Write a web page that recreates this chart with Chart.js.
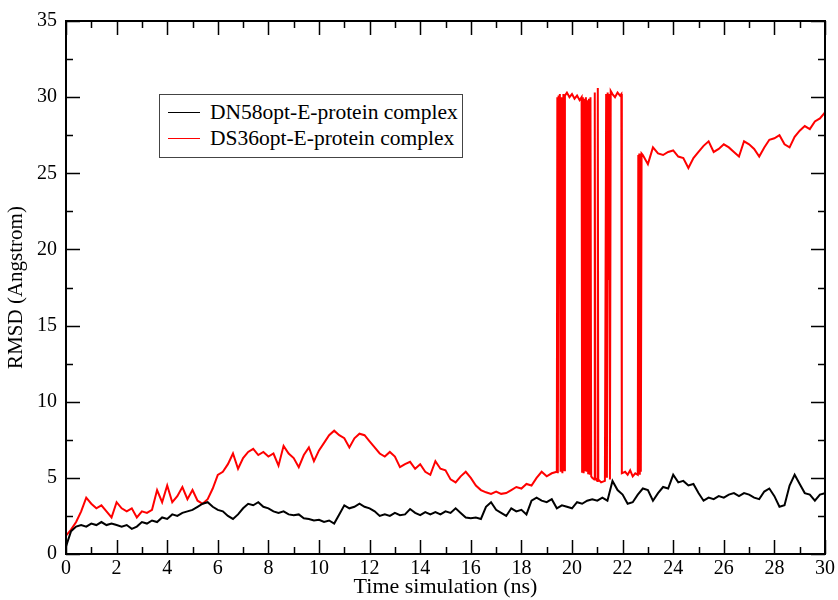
<!DOCTYPE html>
<html>
<head>
<meta charset="utf-8">
<script src="https://cdn.jsdelivr.net/npm/chart.js@4.4.0/dist/chart.umd.min.js"></script>
<style>
  body { margin: 0; background: #fff; }
  #wrap { position: relative; width: 838px; height: 600px; }
  #legend {
    position: absolute; left: 159px; top: 94px; width: 304px; height: 64px;
    border: 1px solid #444; box-sizing: border-box; background: #fff;
    font-family: "Liberation Serif", "Times New Roman", serif; font-size: 21.5px; color: #000;
    padding-top: 4px;
  }
  #legend .row { display: flex; align-items: center; height: 26px; }
  #legend .sample { width: 32px; height: 0; border-top: 1.5px solid; margin-left: 8px; margin-right: 10px; }
</style>
</head>
<body>
<div id="wrap">
  <canvas id="rmsd" width="838" height="600"></canvas>
  <div id="legend"></div>
</div>
<script>
// DN58opt-E-protein complex (black)
const blackTime = [0, 0.2, 0.4, 0.6, 0.8, 1, 1.2, 1.4, 1.6, 1.8, 2, 2.2, 2.4, 2.6, 2.8, 3, 3.2, 3.4, 3.6, 3.8,
  4, 4.2, 4.4, 4.6, 4.8, 5, 5.2, 5.4, 5.6, 5.8, 6, 6.2, 6.4, 6.6, 6.8, 7, 7.2, 7.4, 7.6, 7.8,
  8, 8.2, 8.4, 8.6, 8.8, 9, 9.2, 9.4, 9.6, 9.8, 10, 10.2, 10.4, 10.6, 10.8, 11, 11.2, 11.4, 11.6, 11.8,
  12, 12.2, 12.4, 12.6, 12.8, 13, 13.2, 13.4, 13.6, 13.8, 14, 14.2, 14.4, 14.6, 14.8, 15, 15.2, 15.4, 15.6, 15.8,
  16, 16.2, 16.4, 16.6, 16.8, 17, 17.2, 17.4, 17.6, 17.8, 18, 18.2, 18.4, 18.6, 18.8, 19, 19.2, 19.4, 19.6, 19.8,
  20, 20.2, 20.4, 20.6, 20.8, 21, 21.2, 21.4, 21.6, 21.8, 22, 22.2, 22.4, 22.6, 22.8, 23, 23.2, 23.4, 23.6, 23.8,
  24, 24.2, 24.4, 24.6, 24.8, 25, 25.2, 25.4, 25.6, 25.8, 26, 26.2, 26.4, 26.6, 26.8, 27, 27.2, 27.4, 27.6, 27.8,
  28, 28.2, 28.4, 28.6, 28.8, 29, 29.2, 29.4, 29.6, 29.8, 30];
const blackRmsd = [0.5, 1.5, 1.8, 1.9, 1.8, 2.0, 1.9, 2.1, 1.9, 2.0, 1.9, 1.8, 1.9, 1.65, 1.8, 2.1, 2.0, 2.2, 2.1, 2.4,
  2.3, 2.6, 2.5, 2.7, 2.8, 2.9, 3.1, 3.3, 3.4, 3.1, 2.9, 2.8, 2.5, 2.3, 2.6, 3.0, 3.3, 3.2, 3.4, 3.1,
  3.0, 2.8, 2.7, 2.8, 2.6, 2.55, 2.6, 2.35, 2.3, 2.2, 2.25, 2.1, 2.2, 2.0, 2.6, 3.2, 3.0, 3.1, 3.3, 3.1,
  3.0, 2.8, 2.5, 2.6, 2.5, 2.7, 2.55, 2.6, 2.95, 2.7, 2.55, 2.75, 2.6, 2.75, 2.6, 2.8, 2.7, 3.0, 2.7, 2.4,
  2.35, 2.4, 2.3, 3.1, 3.4, 2.9, 2.7, 2.5, 3.0, 2.8, 2.9, 2.6, 3.5, 3.7, 3.5, 3.4, 3.6, 3.0, 3.2, 3.1,
  3.0, 3.4, 3.3, 3.5, 3.6, 3.5, 3.7, 3.5, 4.8, 4.2, 3.9, 3.3, 3.4, 3.9, 4.3, 4.2, 3.5, 4.0, 4.4, 4.3,
  5.2, 4.7, 4.8, 4.5, 4.6, 4.0, 3.5, 3.7, 3.6, 3.8, 3.7, 3.9, 4.0, 3.8, 4.0, 3.9, 3.7, 3.6, 4.1, 4.3,
  3.8, 3.1, 3.2, 4.5, 5.2, 4.6, 4.0, 3.9, 3.5, 3.9, 4.0];

// DS36opt-E-protein complex (red)
const redTime = [0, 0.2, 0.4, 0.6, 0.8, 1, 1.2, 1.4, 1.6, 1.8, 2, 2.2, 2.4, 2.6, 2.8, 3, 3.2, 3.4, 3.6, 3.8,
  4, 4.2, 4.4, 4.6, 4.8, 5, 5.2, 5.4, 5.6, 5.8, 6, 6.2, 6.4, 6.6, 6.8, 7, 7.2, 7.4, 7.6, 7.8,
  8, 8.2, 8.4, 8.6, 8.8, 9, 9.2, 9.4, 9.6, 9.8, 10, 10.2, 10.4, 10.6, 10.8, 11, 11.2, 11.4, 11.6, 11.8,
  12, 12.2, 12.4, 12.6, 12.8, 13, 13.2, 13.4, 13.6, 13.8, 14, 14.2, 14.4, 14.6, 14.8, 15, 15.2, 15.4, 15.6, 15.8,
  16, 16.2, 16.4, 16.6, 16.8, 17, 17.2, 17.4, 17.6, 17.8, 18, 18.2, 18.4, 18.6, 18.8, 19, 19.2,
  19.4, 19.42, 19.44, 19.47, 19.5, 19.52, 19.55, 19.58, 19.62, 19.66, 19.7, 19.72, 19.8, 19.9, 20, 20.1, 20.2, 20.3, 20.38,
  20.4, 20.43, 20.46, 20.49, 20.52, 20.55, 20.58, 20.61, 20.64, 20.67, 20.7, 20.73, 20.76, 20.8, 20.88, 20.9, 20.92,
  21, 21.02, 21.04, 21.15, 21.3, 21.35, 21.38, 21.41, 21.44, 21.47, 21.5, 21.53, 21.6, 21.7, 21.8, 21.9, 21.95, 21.97,
  22.1, 22.2, 22.3, 22.4, 22.5, 22.6, 22.62, 22.64, 22.66, 22.68, 22.7, 22.72, 22.75,
  22.8, 23, 23.2, 23.4, 23.6, 23.8, 24, 24.2, 24.4, 24.6, 24.8, 25, 25.2, 25.4, 25.6, 25.8,
  26, 26.2, 26.4, 26.6, 26.8, 27, 27.2, 27.4, 27.6, 27.8, 28, 28.2, 28.4, 28.6, 28.8, 29, 29.2, 29.4, 29.6, 29.8, 30];
const redRmsd = [1.2, 1.6, 2.1, 2.8, 3.7, 3.3, 3.0, 3.2, 2.8, 2.4, 3.4, 3.0, 2.8, 3.0, 2.4, 2.8, 2.7, 2.9, 4.2, 3.4,
  4.5, 3.4, 3.8, 4.4, 3.6, 4.2, 3.5, 3.3, 3.6, 4.3, 5.2, 5.4, 5.9, 6.6, 5.6, 6.3, 6.7, 6.9, 6.5, 6.7,
  6.4, 6.6, 5.8, 7.1, 6.6, 6.3, 5.7, 6.5, 7.0, 6.1, 6.8, 7.3, 7.8, 8.1, 7.8, 7.6, 7.0, 7.6, 7.9, 7.8,
  7.4, 7.0, 6.6, 6.4, 6.7, 6.4, 5.7, 5.9, 6.05, 5.6, 5.9, 5.4, 5.2, 6.1, 5.6, 5.5, 4.9, 4.7, 5.1, 5.4,
  5.0, 4.5, 4.2, 4.05, 3.95, 4.1, 3.95, 4.0, 4.2, 4.4, 4.3, 4.6, 4.5, 5.0, 5.4, 5.1, 5.3,
  5.4, 30.0, 5.3, 30.1, 18.0, 30.2, 5.4, 30.0, 5.3, 30.2, 5.5, 30.1, 30.3, 30.0, 30.2, 29.9, 30.1, 29.8, 30.0,
  5.4, 30.0, 5.3, 29.9, 5.5, 30.0, 5.4, 29.8, 5.3, 29.9, 5.2, 30.0, 5.1, 5.0, 4.9, 30.3, 5.0,
  4.8, 30.6, 4.9, 4.7, 4.8, 30.2, 5.0, 30.3, 18.0, 30.2, 4.9, 30.4, 30.2, 30.0, 30.3, 30.1, 30.2, 5.3,
  5.4, 5.2, 5.5, 5.1, 5.3, 5.2, 26.2, 5.3, 26.3, 5.2, 26.1, 5.4, 26.3,
  26.2, 25.6, 26.7, 26.3, 26.2, 26.4, 26.5, 26.1, 26.0, 25.35, 26.0, 26.4, 26.8, 27.1, 26.4, 26.6,
  26.9, 26.7, 26.4, 26.1, 27.1, 26.9, 26.6, 26.1, 26.7, 27.2, 27.3, 27.5, 26.9, 26.7, 27.4, 27.8, 28.1, 27.9, 28.4, 28.6, 29.0];

const seriesLabels = ['DN58opt-E-protein complex', 'DS36opt-E-protein complex'];
const seriesColors = ['#000000', '#ff0000'];
const xTicks = [0, 2, 4, 6, 8, 10, 12, 14, 16, 18, 20, 22, 24, 26, 28, 30];
const yTicks = [0, 5, 10, 15, 20, 25, 30, 35];

const serif = '"Liberation Serif", "Times New Roman", serif';

// frame + inward tick marks on all four sides
const framePlugin = {
  id: 'frame',
  afterDraw(chart) {
    const { ctx, chartArea: a, scales: { x, y } } = chart;
    ctx.save();
    ctx.strokeStyle = '#000';
    ctx.lineWidth = 1.5;
    ctx.beginPath();
    for (let v = 0; v <= 30; v += 1) {
      const px = Math.round(x.getPixelForValue(v)) + 0.5;
      const len = v % 2 === 0 ? 14 : 7;
      ctx.moveTo(px, a.bottom); ctx.lineTo(px, a.bottom - len);
      ctx.moveTo(px, a.top); ctx.lineTo(px, a.top + len);
    }
    for (let v = 0; v <= 35; v += 2.5) {
      const py = Math.round(y.getPixelForValue(v)) + 0.5;
      const len = v % 5 === 0 ? 14 : 7;
      ctx.moveTo(a.left, py); ctx.lineTo(a.left + len, py);
      ctx.moveTo(a.right, py); ctx.lineTo(a.right - len, py);
    }
    ctx.stroke();
    ctx.lineWidth = 2;
    ctx.strokeRect(a.left, a.top, a.right - a.left, a.bottom - a.top);
    ctx.restore();
  }
};

const chart = new Chart(document.getElementById('rmsd'), {
  type: 'line',
  data: {
    datasets: [
      {
        label: seriesLabels[0],
        data: blackTime.map((t, i) => ({ x: t, y: blackRmsd[i] })),
        borderColor: seriesColors[0], borderWidth: 2, pointRadius: 0, tension: 0
      },
      {
        label: seriesLabels[1],
        data: redTime.map((t, i) => ({ x: t, y: redRmsd[i] })),
        borderColor: seriesColors[1], borderWidth: 2, pointRadius: 0, tension: 0
      }
    ]
  },
  options: {
    responsive: false,
    animation: false,
    layout: { padding: { left: 0, top: 17, right: 10, bottom: 0 } },
    plugins: { legend: { display: false }, tooltip: { enabled: false } },
    scales: {
      x: {
        type: 'linear', min: 0, max: 30,
        afterBuildTicks: s => { s.ticks = xTicks.map(v => ({ value: v })); },
        afterFit: s => { s.height = 46; },
        grid: { display: false, drawTicks: false },
        border: { display: false },
        ticks: { color: '#000', font: { family: serif, size: 20 }, padding: 3, maxRotation: 0, autoSkip: false },
        title: { display: true, text: 'Time simulation (ns)', color: '#000', font: { family: serif, size: 22 }, padding: 0 }
      },
      y: {
        type: 'linear', min: 0, max: 35,
        afterBuildTicks: s => { s.ticks = yTicks.map(v => ({ value: v })); },
        afterFit: s => { s.width = 66; },
        grid: { display: false, drawTicks: false },
        border: { display: false },
        ticks: { color: '#000', font: { family: serif, size: 20 }, padding: 9 },
        title: { display: true, text: 'RMSD (Angstrom)', color: '#000', font: { family: serif, size: 21 }, padding: 4 }
      }
    }
  },
  plugins: [framePlugin]
});

// legend box
const legend = document.getElementById('legend');
chart.data.datasets.forEach(ds => {
  const row = document.createElement('div');
  row.className = 'row';
  const sample = document.createElement('span');
  sample.className = 'sample';
  sample.style.borderColor = ds.borderColor;
  const text = document.createElement('span');
  text.textContent = ds.label;
  row.appendChild(sample);
  row.appendChild(text);
  legend.appendChild(row);
});
</script>
</body>
</html>
